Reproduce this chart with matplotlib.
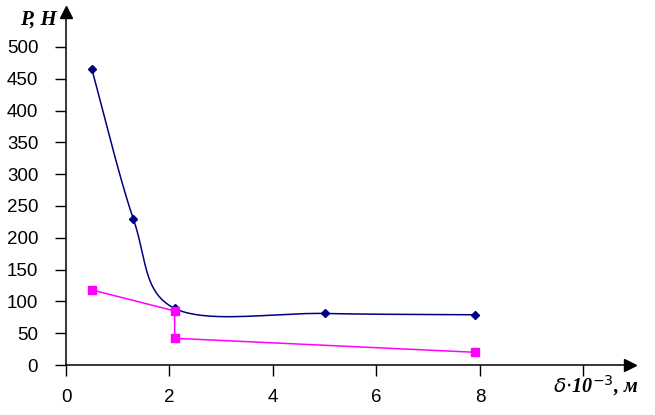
import numpy as np
import matplotlib
matplotlib.use("Agg")
import matplotlib.pyplot as plt

# data
x_blue = [0.5, 1.3, 2.1, 5.0, 7.9]
p_blue = [465, 230, 89, 81, 79]
x_pink = [0.5, 2.1, 2.1, 7.9]
p_pink = [118, 85, 42, 20]
x_ticks = [0, 2, 4, 6, 8]
y_ticks = [0, 50, 100, 150, 200, 250, 300, 350, 400, 450, 500]


def smooth(xs, ys, n=40):
    # Excel-like smoothed line: cubic bezier with catmull-rom control points
    xs = np.asarray(xs, float)
    ys = np.asarray(ys, float)
    px = np.concatenate([[xs[0]], xs, [xs[-1]]])
    py = np.concatenate([[ys[0]], ys, [ys[-1]]])
    out_x, out_y = [], []
    t = np.linspace(0, 1, n)
    for i in range(1, len(px) - 2):
        x0, y0 = px[i], py[i]
        x3, y3 = px[i + 1], py[i + 1]
        x1 = x0 + (px[i + 1] - px[i - 1]) / 6
        y1 = y0 + (py[i + 1] - py[i - 1]) / 6
        x2 = x3 - (px[i + 2] - px[i]) / 6
        y2 = y3 - (py[i + 2] - py[i]) / 6
        bx = (1 - t) ** 3 * x0 + 3 * (1 - t) ** 2 * t * x1 + 3 * (1 - t) * t ** 2 * x2 + t ** 3 * x3
        by = (1 - t) ** 3 * y0 + 3 * (1 - t) ** 2 * t * y1 + 3 * (1 - t) * t ** 2 * y2 + t ** 3 * y3
        out_x.extend(bx)
        out_y.extend(by)
    return out_x, out_y


fig = plt.figure(figsize=(6.55, 4.15), dpi=100)
ax = fig.add_axes([66 / 655, 50 / 415, 564 / 655, 353 / 415])

sx, sy = smooth(x_blue, p_blue)
ax.plot(sx, sy, color="#000080", lw=1.1)
ax.plot(x_blue, p_blue, linestyle="none", marker="D", ms=4.5, color="#000080")
ax.plot(x_pink, p_pink, color="#FF00FF", lw=1.1, marker="s", ms=5.5)

ax.set_xlim(0, 10.9)
ax.set_ylim(0, 555)
ax.set_xticks(x_ticks + [10])
ax.set_xticklabels([str(v) for v in x_ticks] + [""])
ax.set_yticks(y_ticks)

for s in ["top", "right"]:
    ax.spines[s].set_visible(False)
for s in ["left", "bottom"]:
    ax.spines[s].set_linewidth(1.1)
ax.tick_params(direction="out", length=8, width=1, labelsize=13.5)
ax.tick_params(axis="y", pad=12)
ax.tick_params(axis="x", pad=9)
for lab in ax.get_xticklabels() + ax.get_yticklabels():
    lab.set_fontfamily("Liberation Sans")

# arrow heads
ax.plot(1, 0, ">", color="black", ms=8, transform=ax.transAxes, clip_on=False)
ax.plot(0, 1, "^", color="black", ms=8, transform=ax.transAxes, clip_on=False)

fig.text(20 / 655, 1 - 20 / 415, "P, H", fontsize=15, fontweight="bold", fontstyle="italic",
         family="Liberation Serif", va="center", ha="left")
fig.text(553 / 655, 1 - 386 / 415, r"$\delta$$\cdot$10$^{-3}$, м", fontsize=14.5, fontweight="bold",
         fontstyle="italic", family="Liberation Serif", va="center", ha="left")

fig.savefig("out.png", dpi=100)
